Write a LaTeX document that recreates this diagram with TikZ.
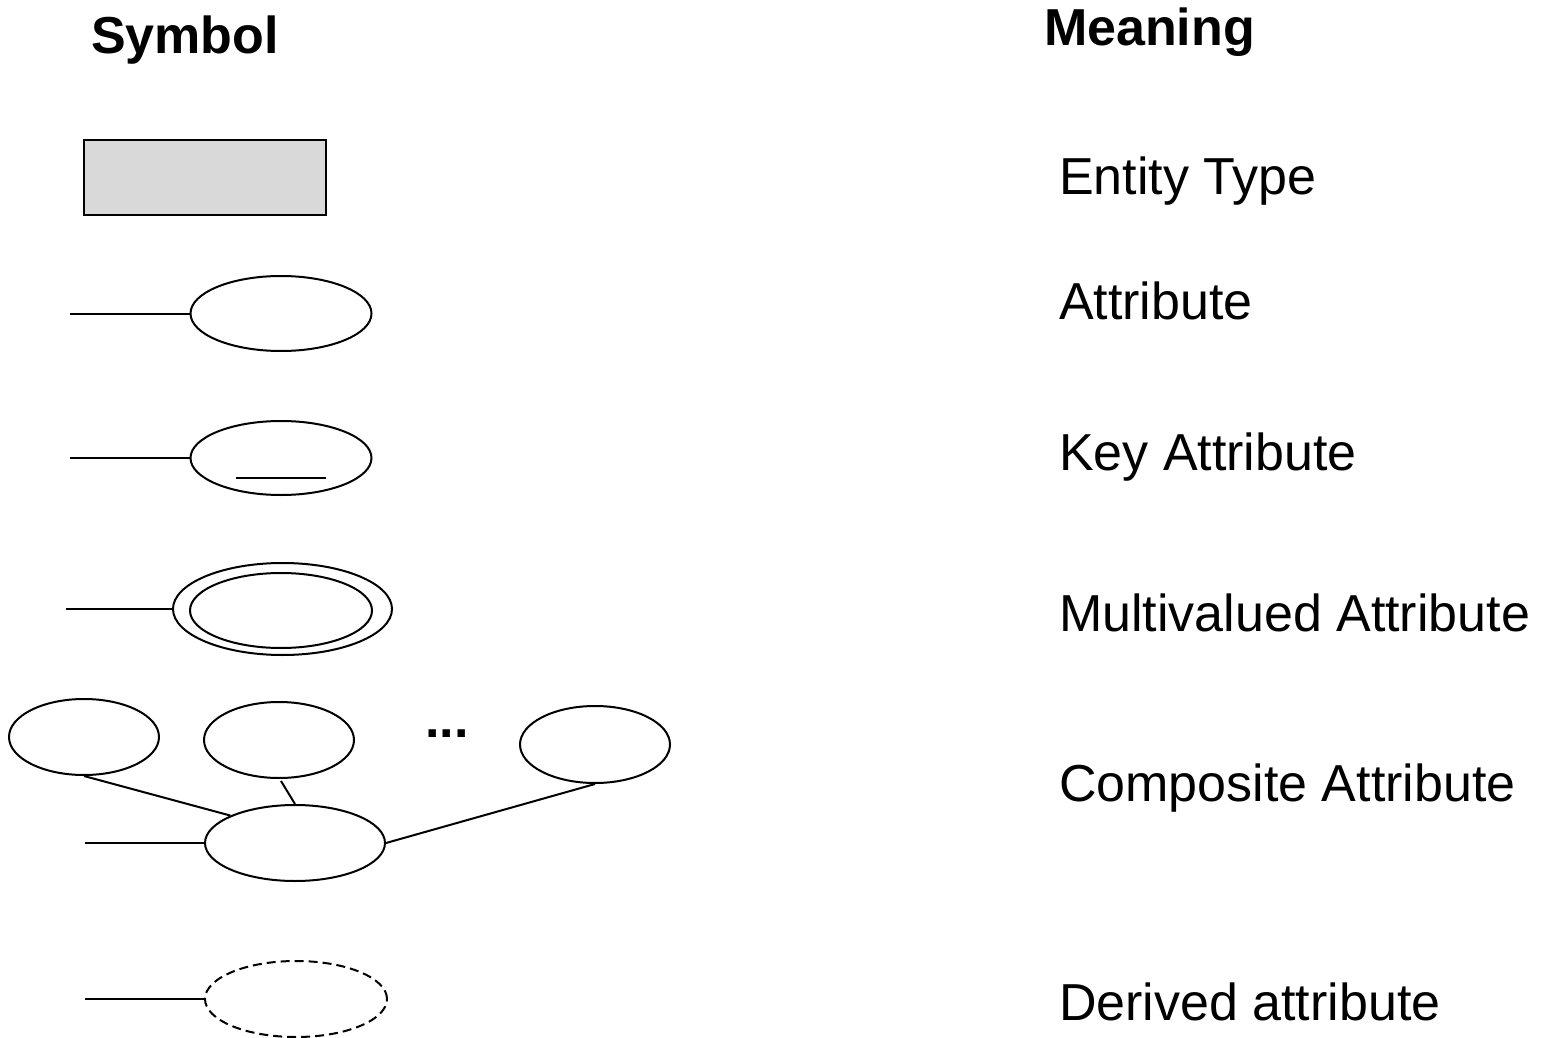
\documentclass[tikz,border=0pt]{standalone}
\usepackage{fontspec}
\setmainfont{Liberation Sans}
\usetikzlibrary{shapes.geometric}
\begin{document}
\begin{tikzpicture}[x=1pt,y=-1pt,line width=2pt,
  head/.style={font=\fontsize{52}{60}\selectfont\bfseries,anchor=base west,inner sep=0pt},
  label/.style={font=\fontsize{52}{60}\selectfont,anchor=base west,inner sep=0pt},
  attr/.style={ellipse,draw,inner sep=0pt},
  link/.style={line width=2pt}]
\useasboundingbox (0,0) rectangle (1543,1038);

% column headings
\node[head] (hsym) at (90,54) {Symbol};
\node[head] (hmean) at (1043,46) {Meaning};

% entity type
\node[draw,fill={rgb,255:red,217;green,217;blue,217},minimum width=242pt,minimum height=75pt,inner sep=0pt] (ent) at (205,177.5) {};
\node[label] (tent) at (1058,195) {Entity Type};

% attribute
\node[attr,minimum width=181pt,minimum height=75pt] (att) at (281,313.5) {};
\coordinate (att0) at (70,313.5);
\draw[link] (att0) -- (att.west);
\node[label] (tatt) at (1058,319) {Attribute};

% key attribute
\node[attr,minimum width=181pt,minimum height=74pt] (key) at (281,458) {};
\coordinate (key0) at (70,458);
\coordinate (keyu1) at (236,478);
\coordinate (keyu2) at (326,478);
\draw[link] (key0) -- (key.west);
\draw[link] (keyu1) -- (keyu2);
\node[label] (tkey) at (1058,470) {Key Attribute};

% multivalued attribute
\node[attr,minimum width=219pt,minimum height=92pt] (mvo) at (282.5,609) {};
\node[attr,minimum width=182pt,minimum height=75pt] (mvi) at (281,610.5) {};
\coordinate (mv0) at (66,609);
\draw[link] (mv0) -- (mvo.west);
\node[label] (tmv) at (1058,631) {Multivalued Attribute};

% composite attribute
\node[attr,minimum width=150pt,minimum height=76pt] (c1) at (84,737) {};
\node[attr,minimum width=150pt,minimum height=76pt] (c2) at (279,740) {};
\node[attr,minimum width=150pt,minimum height=77pt] (c3) at (595,744.5) {};
\node[head,anchor=base] (dots) at (447,737) {...};
\node[attr,minimum width=180pt,minimum height=76pt] (comp) at (295,843) {};
\coordinate (comp0) at (85,843);
\draw[link] (comp0) -- (comp.west);
\draw[link] (c1.south) -- (comp.157);
\draw[link] ([xshift=2pt,yshift=-2pt]c2.south) -- (comp.north);
\draw[link] (c3.south) -- (comp.east);
\node[label] (tcomp) at (1058,801) {Composite Attribute};

% derived attribute
\node[attr,dashed,dash pattern=on 9pt off 5pt,minimum width=182pt,minimum height=76pt] (der) at (296,999) {};
\coordinate (der0) at (85,999);
\draw[link] (der0) -- (der.west);
\node[label] (tder) at (1058,1020) {Derived attribute};
\end{tikzpicture}
\end{document}
